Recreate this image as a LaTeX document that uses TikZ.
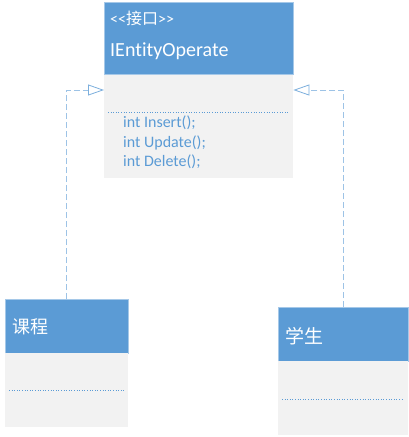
\documentclass[tikz,border=0pt]{standalone}
\usepackage{fontspec}
\setmainfont{Carlito}[Ligatures={TeXOff,CommonOff}]
\newfontfamily\cjk{Noto Sans CJK SC}
\usetikzlibrary{arrows.meta,positioning}
\definecolor{umlblue}{HTML}{5B9BD5}
\definecolor{umlgray}{HTML}{F2F2F2}
\definecolor{linkblue}{HTML}{9DC3E6}
\tikzset{
  classhead/.style={draw=umlblue!55!white,line width=0.6pt,fill=umlblue,anchor=north west,inner sep=0pt},
  classbody/.style={fill=umlgray,anchor=north west,inner sep=0pt},
  headtext/.style={text=white,anchor=base west,inner sep=0pt},
  sep/.style={umlblue,dotted,line width=0.6pt},
  realize/.style={linkblue,line width=0.8pt,dash pattern=on 6pt off 3pt,
    -{Triangle[open,length=16pt,width=11pt,line width=0.8pt,umlblue!80!white,fill=white]}}
}
\begin{document}
\begin{tikzpicture}[x=1pt,y=-1pt]
\useasboundingbox (0,0) rectangle (408,437);
\node[classhead,minimum width=189pt,minimum height=72pt] (ifhead) at (104,2) {};
\node[classbody,minimum width=189pt,minimum height=103pt] (ifbody) at (104,75) {};
\node[headtext,font=\fontsize{16}{16}\selectfont] (ifstereo) at (110,24) {<<{\cjk 接口}>>};
\node[headtext,font=\fontsize{20}{20}\selectfont] (ifname) at (110,56) {IEntityOperate};
\draw[sep] ([xshift=4pt,yshift=-37pt]ifbody.north west) -- ([xshift=-4pt,yshift=-37pt]ifbody.north east);
\node[anchor=north west,inner sep=0pt,align=left,text=umlblue,font=\fontsize{16}{19.5}\selectfont] (ifops) at (123,116)
  {int Insert();\\int Update();\\int Delete();};

\node[classhead,minimum width=123pt,minimum height=54pt] (kchead) at (5,299) {};
\node[classbody,minimum width=123pt,minimum height=74pt] (kcbody) at (5,353) {};
\node[headtext,font=\fontsize{18}{18}\cjk] (kcname) at (12,333) {课程};
\draw[sep] ([xshift=4pt,yshift=-37pt]kcbody.north west) -- ([xshift=-3pt,yshift=-37pt]kcbody.north east);

\node[classhead,minimum width=130pt,minimum height=54pt] (xshead) at (278,307) {};
\node[classbody,minimum width=130pt,minimum height=74pt] (xsbody) at (278,361) {};
\node[headtext,font=\fontsize{19}{19}\cjk] (xsname) at (285,343) {学生};
\draw[sep] ([xshift=4pt,yshift=-38pt]xsbody.north west) -- ([xshift=-6pt,yshift=-38pt]xsbody.north east);

\draw[realize] (kchead.north) |- ([yshift=-15pt]ifbody.north west);
\draw[realize] (xshead.north) |- ([yshift=-15pt]ifbody.north east);
\end{tikzpicture}
\end{document}
